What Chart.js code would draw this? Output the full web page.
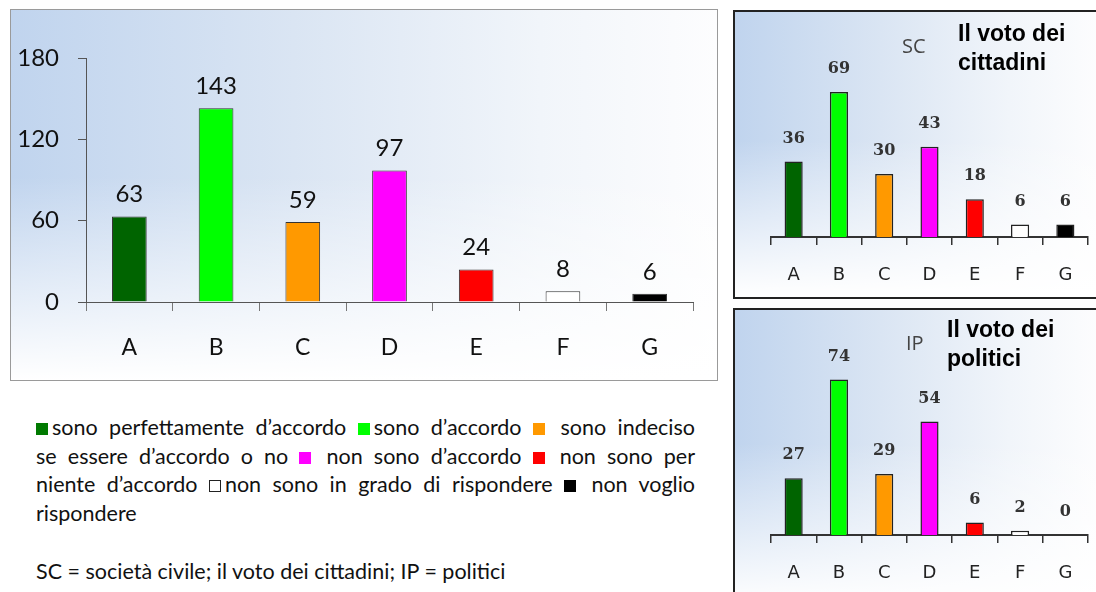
<!DOCTYPE html>
<html>
<head>
<meta charset="utf-8">
<script src="https://cdn.jsdelivr.net/npm/chart.js@4.4.1/dist/chart.umd.min.js"></script>
<style>
  body { margin: 0; width: 1096px; height: 592px; background: #fff; position: relative; overflow: hidden; font-family: Lato, sans-serif; }
  .box { position: absolute; box-sizing: border-box; }
  .bg {
    background:
      linear-gradient(to bottom, rgba(255,255,255,0) 0%, rgba(255,255,255,0) 45%, rgba(255,255,255,1) 100%),
      linear-gradient(to right, #c0d4ee 0%, #dae5f3 40%, #f1f5fa 75%, #fdfdfe 100%);
  }
  #mainBox { left: 10px; top: 9px; width: 708px; height: 372px; border: 1px solid #9a9a9a; }
  #scBox { left: 733px; top: 10px; width: 370px; height: 289px; border: 2px solid #222; }
  #ipBox { left: 733px; top: 308px; width: 370px; height: 300px; border: 2px solid #222; }
  canvas { position: absolute; }
  .tag { position: absolute; font-size: 20px; color: #444; font-family: "Open Sans", sans-serif; }
  .title { position: absolute; font-family: "Liberation Sans", Arial, sans-serif; font-weight: bold; font-size: 23px; line-height: 29px; color: #000; }
  #legend { position: absolute; left: 36px; top: 413px; width: 659px; font-size: 21.5px; line-height: 28.5px; color: #111; }
  #legend .ln { text-align: justify; text-align-last: justify; white-space: nowrap; }
  #legend .ln.last { text-align-last: left; }
  .sq { display: inline-block; width: 12px; height: 12px; vertical-align: 0px; box-sizing: border-box; margin-right: 4px; }
  #note { position: absolute; left: 36px; top: 558px; font-size: 21.5px; color: #111; }
</style>
</head>
<body>
<div class="box bg" id="mainBox"></div>
<div class="box bg" id="scBox"></div>
<div class="box bg" id="ipBox"></div>

<canvas id="mainChart" width="706" height="370" style="left:11px;top:10px"></canvas>
<canvas id="scChart" width="361" height="285" style="left:735px;top:12px"></canvas>
<canvas id="ipChart" width="361" height="282" style="left:735px;top:310px"></canvas>

<div class="tag" style="left:902px;top:32px">SC</div>
<div class="title" style="left:958px;top:19px">Il voto dei<br>cittadini</div>
<div class="tag" style="left:906px;top:329px">IP</div>
<div class="title" style="left:947px;top:315px">Il voto dei<br>politici</div>

<div id="legend">
  <div class="ln"><span class="sq" style="background:#007a00"></span>sono perfettamente d’accordo <span class="sq" style="background:#00ff00"></span>sono d’accordo <span class="sq" style="background:#ff9900"></span> sono indeciso</div>
  <div class="ln">se essere d’accordo o no <span class="sq" style="background:#ff00ff"></span> non sono d’accordo <span class="sq" style="background:#ff0000"></span> non sono per</div>
  <div class="ln">niente d’accordo <span class="sq" style="background:#fff;border:1px solid #222"></span>non sono in grado di rispondere <span class="sq" style="background:#000"></span> non voglio</div>
  <div class="ln last">rispondere</div>
</div>
<div id="note">SC = società civile; il voto dei cittadini; IP = politici</div>

<script>
// dati
const categories = ['A', 'B', 'C', 'D', 'E', 'F', 'G'];
const totalVotes = [63, 143, 59, 97, 24, 8, 6];
const citizenVotes = [36, 69, 30, 43, 18, 6, 6];
const politicianVotes = [27, 74, 29, 54, 6, 2, 0];
const mainTicks = [0, 60, 120, 180];
const barColors = ['#006400', '#00ff00', '#ff9900', '#ff00ff', '#ff0000', '#ffffff', '#000000'];

// etichette dei valori sopra le barre
const valueLabels = {
  id: 'valueLabels',
  afterDatasetsDraw(chart, args, opts) {
    const ctx = chart.ctx;
    const meta = chart.getDatasetMeta(0);
    const values = chart.data.datasets[0].data;
    ctx.save();
    ctx.font = opts.font;
    ctx.fillStyle = opts.color;
    ctx.textAlign = 'center';
    ctx.textBaseline = 'middle';
    meta.data.forEach((bar, i) => {
      ctx.fillText(String(values[i]), bar.x, bar.y - opts.offset);
    });
    ctx.restore();
  }
};

Chart.register(valueLabels);

new Chart(document.getElementById('mainChart'), {
  type: 'bar',
  data: {
    labels: categories,
    datasets: [{
      data: totalVotes,
      backgroundColor: barColors,
      borderColor: '#333',
      borderWidth: 1,
      barPercentage: 0.4,
      categoryPercentage: 1
    }]
  },
  options: {
    responsive: false,
    animation: false,
    layout: { padding: { left: 0, top: 48, right: 24, bottom: 0 } },
    plugins: {
      legend: { display: false },
      tooltip: { enabled: false },
      valueLabels: { font: '24px Lato', color: '#111', offset: 22 }
    },
    scales: {
      y: {
        min: 0,
        max: 180,
        afterBuildTicks: s => { s.ticks = mainTicks.map(v => ({ value: v })); },
        afterFit: s => { s.width = 75; },
        grid: { drawOnChartArea: false, tickLength: 8, tickColor: '#555' },
        border: { color: '#555', width: 1 },
        ticks: { padding: 19, color: '#111', font: { family: 'Lato', size: 24 } }
      },
      x: {
        afterFit: s => { s.height = 78; },
        grid: { drawOnChartArea: false, tickLength: 9, tickColor: '#777' },
        border: { color: '#555', width: 1 },
        ticks: { padding: 23, color: '#111', font: { family: 'Lato', size: 23 } }
      }
    }
  }
});

function smallChart(id, values) {
  return new Chart(document.getElementById(id), {
    type: 'bar',
    data: {
      labels: categories,
      datasets: [{
        data: values,
        backgroundColor: barColors,
        borderColor: '#222',
        borderWidth: 1.5,
        barPercentage: 0.4,
        categoryPercentage: 1
      }]
    },
    options: {
      responsive: false,
      animation: false,
      layout: { padding: { left: 36, top: 57, right: 8, bottom: 0 } },
      plugins: {
        legend: { display: false },
        tooltip: { enabled: false },
        valueLabels: { font: 'bold 16px "DejaVu Serif"', color: '#333', offset: 23 }
      },
      scales: {
        y: { display: false, min: 0, max: 80 },
        x: {
          afterFit: s => { s.height = id === 'scChart' ? 60 : 57; },
          grid: { drawOnChartArea: false, tickLength: 8, tickColor: '#333', lineWidth: 1.5 },
          border: { color: '#333', width: 2 },
          ticks: { padding: 20, color: '#222', font: { family: 'DejaVu Sans', size: 18 } }
        }
      }
    }
  });
}

smallChart('scChart', citizenVotes);
smallChart('ipChart', politicianVotes);
</script>
</body>
</html>
